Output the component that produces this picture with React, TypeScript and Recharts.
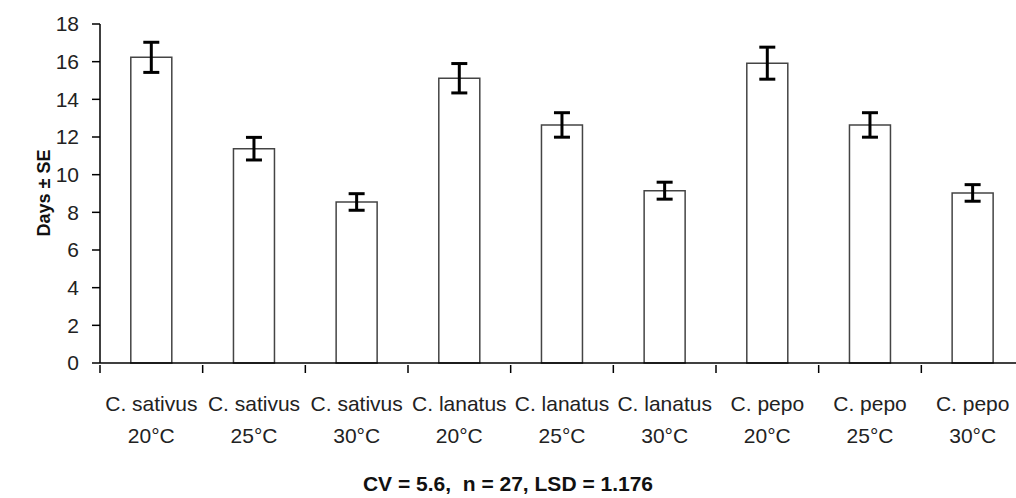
import { BarChart, Bar, XAxis, YAxis, ErrorBar } from "recharts";

const species = [
  "C. sativus", "C. sativus", "C. sativus",
  "C. lanatus", "C. lanatus", "C. lanatus",
  "C. pepo", "C. pepo", "C. pepo",
];
const temps = ["20°C", "25°C", "30°C", "20°C", "25°C", "30°C", "20°C", "25°C", "30°C"];
const days = [16.23, 11.38, 8.55, 15.12, 12.64, 9.15, 15.92, 12.64, 9.03];
const se = [0.8, 0.6, 0.44, 0.78, 0.65, 0.45, 0.85, 0.65, 0.44];
const yTicks = [0, 2, 4, 6, 8, 10, 12, 14, 16, 18];

const data = species.map((s, i) => ({ name: `${s} ${temps[i]}`, idx: i, days: days[i], se: se[i] }));

const FONT = "'Liberation Sans', Arial, sans-serif";

function CatTick(props: any) {
  const { x, y, payload } = props;
  const i = payload.index ?? payload.value;
  const half = payload.offset || 51.3;
  return (
    <g>
      <line x1={x - half} y1={y - 8} x2={x - half} y2={y} stroke="#000" strokeWidth={1.5} />
      {i === species.length - 1 && (
        <line x1={x + half} y1={y - 8} x2={x + half} y2={y} stroke="#000" strokeWidth={1.5} />
      )}
      <text x={x} y={y + 38} textAnchor="middle" fontSize={21} fontFamily={FONT} fill="#222">
        {species[i]}
      </text>
      <text x={x} y={y + 70} textAnchor="middle" fontSize={21} fontFamily={FONT} fill="#222">
        {temps[i]}
      </text>
    </g>
  );
}

export default function App() {
  return (
    <div style={{ position: "absolute", left: 0, top: 0, width: 1016, height: 498, overflow: "hidden", background: "#fff" }}>
      <BarChart
        width={1030}
        height={498}
        data={data}
        margin={{ top: 24, right: 6, bottom: 45, left: 0 }}
        barCategoryGap="30%"
      >
        <XAxis
          dataKey="idx"
          type="category"
          height={90}
          interval={0}
          tickLine={false}
          tickSize={8}
          axisLine={{ stroke: "#000", strokeWidth: 1.5 }}
          tick={<CatTick />}
          label={{
            content: () => (
              <text
                x={508}
                y={483}
                textAnchor="middle"
                dominantBaseline="central"
                fontSize={21}
                fontWeight="bold"
                fontFamily={FONT}
                fill="#111"
                style={{ whiteSpace: "pre" }}
              >
                {"CV = 5.6,  n = 27, LSD = 1.176"}
              </text>
            ),
          }}
        />
        <YAxis
          width={100}
          domain={[0, 18]}
          ticks={yTicks}
          interval={0}
          tickSize={8}
          tickMargin={13}
          axisLine={{ stroke: "#000", strokeWidth: 1.5 }}
          tickLine={{ stroke: "#000", strokeWidth: 1.5 }}
          tick={{ fontSize: 21, fontFamily: FONT, fill: "#222" }}
          label={{
            content: () => (
              <text
                x={44}
                y={193}
                transform="rotate(-90 44 193)"
                textAnchor="middle"
                dominantBaseline="central"
                fontSize={18}
                fontWeight="bold"
                fontFamily={FONT}
                fill="#111"
              >
                Days ± SE
              </text>
            ),
          }}
        />
        <Bar dataKey="days" fill="#fff" stroke="#444" strokeWidth={1.5} isAnimationActive={false}>
          <ErrorBar dataKey="se" width={8} stroke="#000" strokeWidth={3} direction="y" />
        </Bar>
      </BarChart>
    </div>
  );
}
